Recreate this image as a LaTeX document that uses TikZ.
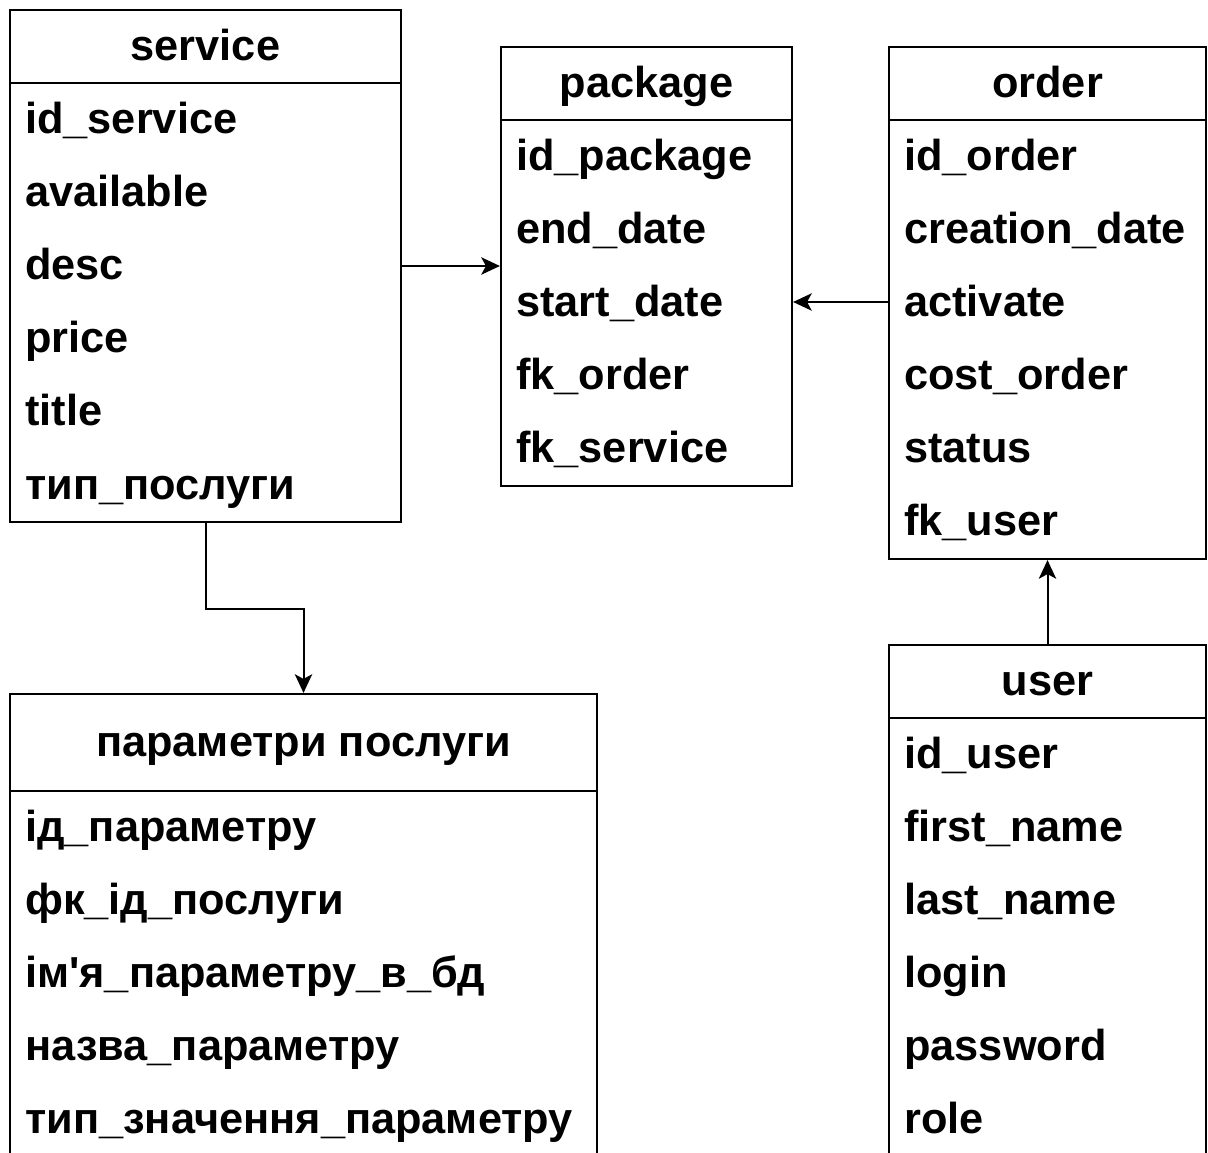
\documentclass[tikz,border=0pt]{standalone}
\usepackage{fontspec}
\newfontfamily\lib{Liberation Sans}
\usetikzlibrary{fit,arrows.meta}
\tikzset{
  box/.style={draw, line width=1.6pt, inner sep=0pt},
  sep/.style={line width=1.6pt},
  hdr/.style={inner sep=0pt, anchor=base, font=\lib\bfseries\fontsize{32.5}{38}\selectfont},
  fld/.style={inner sep=0pt, anchor=base west, font=\lib\bfseries\fontsize{32.5}{38}\selectfont},
  arr/.style={line width=1.5pt, -{Stealth[length=14pt, width=13pt, inset=3.5pt]}}
}
\begin{document}
\begin{tikzpicture}[x=0.75pt, y=-0.75pt]
\useasboundingbox (0,0) rectangle (1208,1153);
\clip (0,0) rectangle (1208,1153);
% service
\node[box, fit={(10,10)(401,522)}] (service) {};
\draw[sep] (10,83) -- (401,83);
\node[hdr] (sh) at (205.5,60) {service};
\node[fld] (s1) at (25,133) {id\_service};
\node[fld] (s2) at (25,206) {available};
\node[fld] (s3) at (25,279) {desc};
\node[fld] (s4) at (25,352) {price};
\node[fld] (s5) at (25,425) {title};
\node[fld] (s6) at (25,499) {тип\_послуги};
% package
\node[box, fit={(501,47)(792,486)}] (package) {};
\draw[sep] (501,120) -- (792,120);
\node[hdr] (ph) at (646.5,97) {package};
\node[fld] (p1) at (516,170) {id\_package};
\node[fld] (p2) at (516,243) {end\_date};
\node[fld] (p3) at (516,316) {start\_date};
\node[fld] (p4) at (516,389) {fk\_order};
\node[fld] (p5) at (516,462) {fk\_service};
% order
\node[box, fit={(889,47)(1206,559)}] (order) {};
\draw[sep] (889,120) -- (1206,120);
\node[hdr] (oh) at (1047.5,97) {order};
\node[fld] (o1) at (904,170) {id\_order};
\node[fld] (o2) at (904,243) {creation\_date};
\node[fld] (o3) at (904,316) {activate};
\node[fld] (o4) at (904,389) {cost\_order};
\node[fld] (o5) at (904,462) {status};
\node[fld] (o6) at (904,535) {fk\_user};
% user
\node[box, fit={(889,645)(1206,1175)}] (user) {};
\draw[sep] (889,718) -- (1206,718);
\node[hdr] (uh) at (1047.5,695) {user};
\node[fld] (u1) at (904,768) {id\_user};
\node[fld] (u2) at (904,841) {first\_name};
\node[fld] (u3) at (904,914) {last\_name};
\node[fld] (u4) at (904,987) {login};
\node[fld] (u5) at (904,1060) {password};
\node[fld] (u6) at (904,1133) {role};
% params
\node[box, fit={(10,694)(597,1175)}] (params) {};
\draw[sep] (10,791) -- (597,791);
\node[hdr] (qh) at (303.5,756) {параметри послуги};
\node[fld] (q1) at (25,841) {ід\_параметру};
\node[fld] (q2) at (25,914) {фк\_ід\_послуги};
\node[fld] (q3) at (25,987) {ім'я\_параметру\_в\_бд};
\node[fld] (q4) at (25,1060) {назва\_параметру};
\node[fld] (q5) at (25,1133) {тип\_значення\_параметру};
% connectors
\coordinate (c1) at (0,266);
\coordinate (c2) at (0,302);
\draw[arr] (service.east |- c1) -- (package.west |- c1);
\draw[arr] (order.west |- c2) -- (package.east |- c2);
\draw[arr] (user.north) -- (order.south);
\draw[arr] (service.south) -- ++(0,86) -| (params.north);
\end{tikzpicture}
\end{document}
